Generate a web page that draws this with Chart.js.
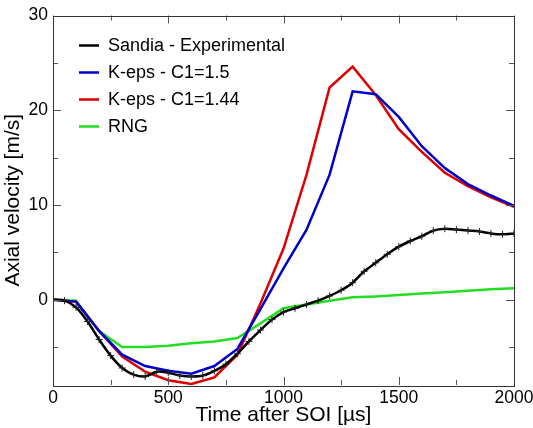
<!DOCTYPE html>
<html>
<head>
<meta charset="utf-8">
<script src="https://cdn.jsdelivr.net/npm/chart.js@4/dist/chart.umd.min.js"></script>
<style>
  html, body { margin: 0; padding: 0; background: #fff; }
  #wrap { width: 533px; height: 428px; }
</style>
</head>
<body>
<div id="wrap"><canvas id="myChart"></canvas></div>
<script>
// model output times (us)
const simTimes = [0, 100, 200, 300, 400, 500, 600, 700, 800, 900, 1000,
                  1100, 1200, 1300, 1400, 1500, 1600, 1700, 1800, 1900, 2000];
const kepsC15  = [0, -0.2, -3.3, -5.8, -7.0, -7.5, -7.8, -7.0, -5.2, -1.0, 3.3,
                  7.4, 13.2, 22.0, 21.7, 19.3, 16.2, 13.9, 12.2, 11.0, 9.9];
const kepsC144 = [0, -0.2, -3.3, -6.0, -7.6, -8.5, -8.9, -8.2, -5.8, -0.4, 5.4,
                  13.2, 22.4, 24.6, 21.6, 18.0, 15.6, 13.4, 12.0, 10.8, 9.8];
const rng      = [0, -0.1, -3.3, -5.0, -5.0, -4.85, -4.6, -4.4, -4.05, -2.5, -0.9,
                  -0.5, -0.1, 0.25, 0.35, 0.5, 0.65, 0.8, 0.95, 1.1, 1.2];

// experimental (Sandia)
const expTimes = [0, 50, 100, 150, 200, 250, 300, 350, 400, 450, 500,
                  550, 600, 650, 700, 750, 800, 850, 900, 950, 1000,
                  1050, 1100, 1150, 1200, 1250, 1300, 1350, 1400, 1450, 1500,
                  1550, 1600, 1650, 1700, 1750, 1800, 1850, 1900, 1950, 2000];
const expVel   = [0, -0.1, -0.8, -2.3, -4.2, -5.9, -7.2, -7.9, -8.1, -7.6, -7.7,
                  -8.0, -8.1, -8.0, -7.5, -6.8, -5.7, -4.4, -3.2, -2.1, -1.3,
                  -0.9, -0.5, -0.1, 0.4, 1.0, 1.8, 3.0, 3.9, 4.8, 5.6,
                  6.2, 6.7, 7.3, 7.5, 7.4, 7.3, 7.2, 7.0, 6.9, 7.0];

const xMajor = [0, 500, 1000, 1500, 2000];
const xMinor = [250, 750, 1250, 1750];
const yMajor = [0, 10, 20, 30];
const yMinor = [-5, 5, 15, 25];

function pairs(xs, ys) {
    return xs.map((x, i) => ({ x: x, y: ys[i] }));
}

// frame with inward ticks on all four sides
const frameTicks = {
    id: 'frameTicks',
    afterDatasetsDraw(chart) {
        const ctx = chart.ctx;
        const a = chart.chartArea;
        const xs = chart.scales.x, ys = chart.scales.y;
        ctx.save();
        ctx.strokeStyle = '#555';
        ctx.lineWidth = 1;
        ctx.beginPath();
        function tx(v, len) {
            const p = Math.round(xs.getPixelForValue(v)) + 0.5;
            ctx.moveTo(p, a.bottom); ctx.lineTo(p, a.bottom - len);
            ctx.moveTo(p, a.top); ctx.lineTo(p, a.top + len);
        }
        function ty(v, len) {
            const p = Math.round(ys.getPixelForValue(v)) + 0.5;
            ctx.moveTo(a.left, p); ctx.lineTo(a.left + len, p);
            ctx.moveTo(a.right, p); ctx.lineTo(a.right - len, p);
        }
        xMajor.forEach(v => tx(v, 8));
        xMinor.forEach(v => tx(v, 5));
        yMajor.forEach(v => ty(v, 8));
        yMinor.forEach(v => ty(v, 5));
        ctx.stroke();
        ctx.strokeStyle = '#333';
        ctx.strokeRect(Math.round(a.left) + 0.5, Math.round(a.top) + 0.5,
                       Math.round(a.right - a.left), Math.round(a.bottom - a.top));
        ctx.restore();
    }
};

// legend inside the plot, upper left
const insideLegend = {
    id: 'insideLegend',
    afterDraw(chart) {
        const ctx = chart.ctx;
        const a = chart.chartArea;
        ctx.save();
        ctx.font = '18px "Liberation Sans", Arial, sans-serif';
        ctx.textBaseline = 'middle';
        chart.data.datasets.forEach((ds, i) => {
            const y = a.top + 30 + i * 27;
            ctx.strokeStyle = ds.borderColor;
            ctx.lineWidth = 2.5;
            ctx.beginPath();
            ctx.moveTo(a.left + 26, y);
            ctx.lineTo(a.left + 46, y);
            ctx.stroke();
            ctx.fillStyle = '#000';
            ctx.fillText(ds.label, a.left + 55, y + 1);
        });
        ctx.restore();
    }
};

let ctx = document.getElementById('myChart').getContext('2d');
let config = {
    type: 'line',
    data: {
        datasets: [{
            label: 'Sandia - Experimental',
            data: pairs(expTimes, expVel),
            borderColor: '#000000',
            borderWidth: 2.5,
            pointStyle: 'cross',
            pointRadius: 3.5,
            pointBorderWidth: 1,
            pointBorderColor: '#222',
            tension: 0.3
        }, {
            label: 'K-eps - C1=1.5',
            data: pairs(simTimes, kepsC15),
            borderColor: '#0000cc',
            borderWidth: 2.5,
            pointRadius: 0
        }, {
            label: 'K-eps - C1=1.44',
            data: pairs(simTimes, kepsC144),
            borderColor: '#dd0000',
            borderWidth: 2.5,
            pointRadius: 0
        }, {
            label: 'RNG',
            data: pairs(simTimes, rng),
            borderColor: '#22dd22',
            borderWidth: 2.5,
            pointRadius: 0
        }]
    },
    options: {
        responsive: true,
        maintainAspectRatio: false,
        animation: false,
        layout: { padding: { top: 12, right: 19, left: 0, bottom: 0 } },
        plugins: {
            legend: { display: false },
            tooltip: { enabled: false }
        },
        scales: {
            x: {
                type: 'linear',
                min: 0,
                max: 2000,
                afterBuildTicks: axis => { axis.ticks = xMajor.map(v => ({ value: v })); },
                afterFit: axis => {
                    axis.height = 43;
                    axis.paddingRight = 0;   // let "2000" run into the margin
                    axis.paddingLeft = 0;
                },
                grid: { display: false, drawTicks: false },
                border: { display: false },
                ticks: {
                    padding: 3,
                    color: '#000',
                    maxRotation: 0,
                    callback: v => String(v),
                    font: { family: '"Liberation Sans", Arial, sans-serif', size: 17.5 }
                },
                title: {
                    display: true,
                    text: 'Time after SOI [µs]',
                    color: '#000',
                    padding: { top: 0, bottom: 0 },
                    font: { family: '"Liberation Sans", Arial, sans-serif', size: 21 }
                }
            },
            y: {
                min: -9,
                max: 30,
                afterBuildTicks: axis => { axis.ticks = yMajor.map(v => ({ value: v })); },
                afterFit: axis => { axis.width = 53; },
                grid: { display: false, drawTicks: false },
                border: { display: false },
                ticks: {
                    padding: 5,
                    color: '#000',
                    callback: v => String(v),
                    font: { family: '"Liberation Sans", Arial, sans-serif', size: 17.5 }
                },
                title: {
                    display: true,
                    text: 'Axial velocity [m/s]',
                    color: '#000',
                    padding: { top: 1, bottom: 1 },
                    font: { family: '"Liberation Sans", Arial, sans-serif', size: 21 }
                }
            }
        }
    },
    plugins: [frameTicks, insideLegend]
};
let myChart = new Chart(ctx, config);
</script>
</body>
</html>
